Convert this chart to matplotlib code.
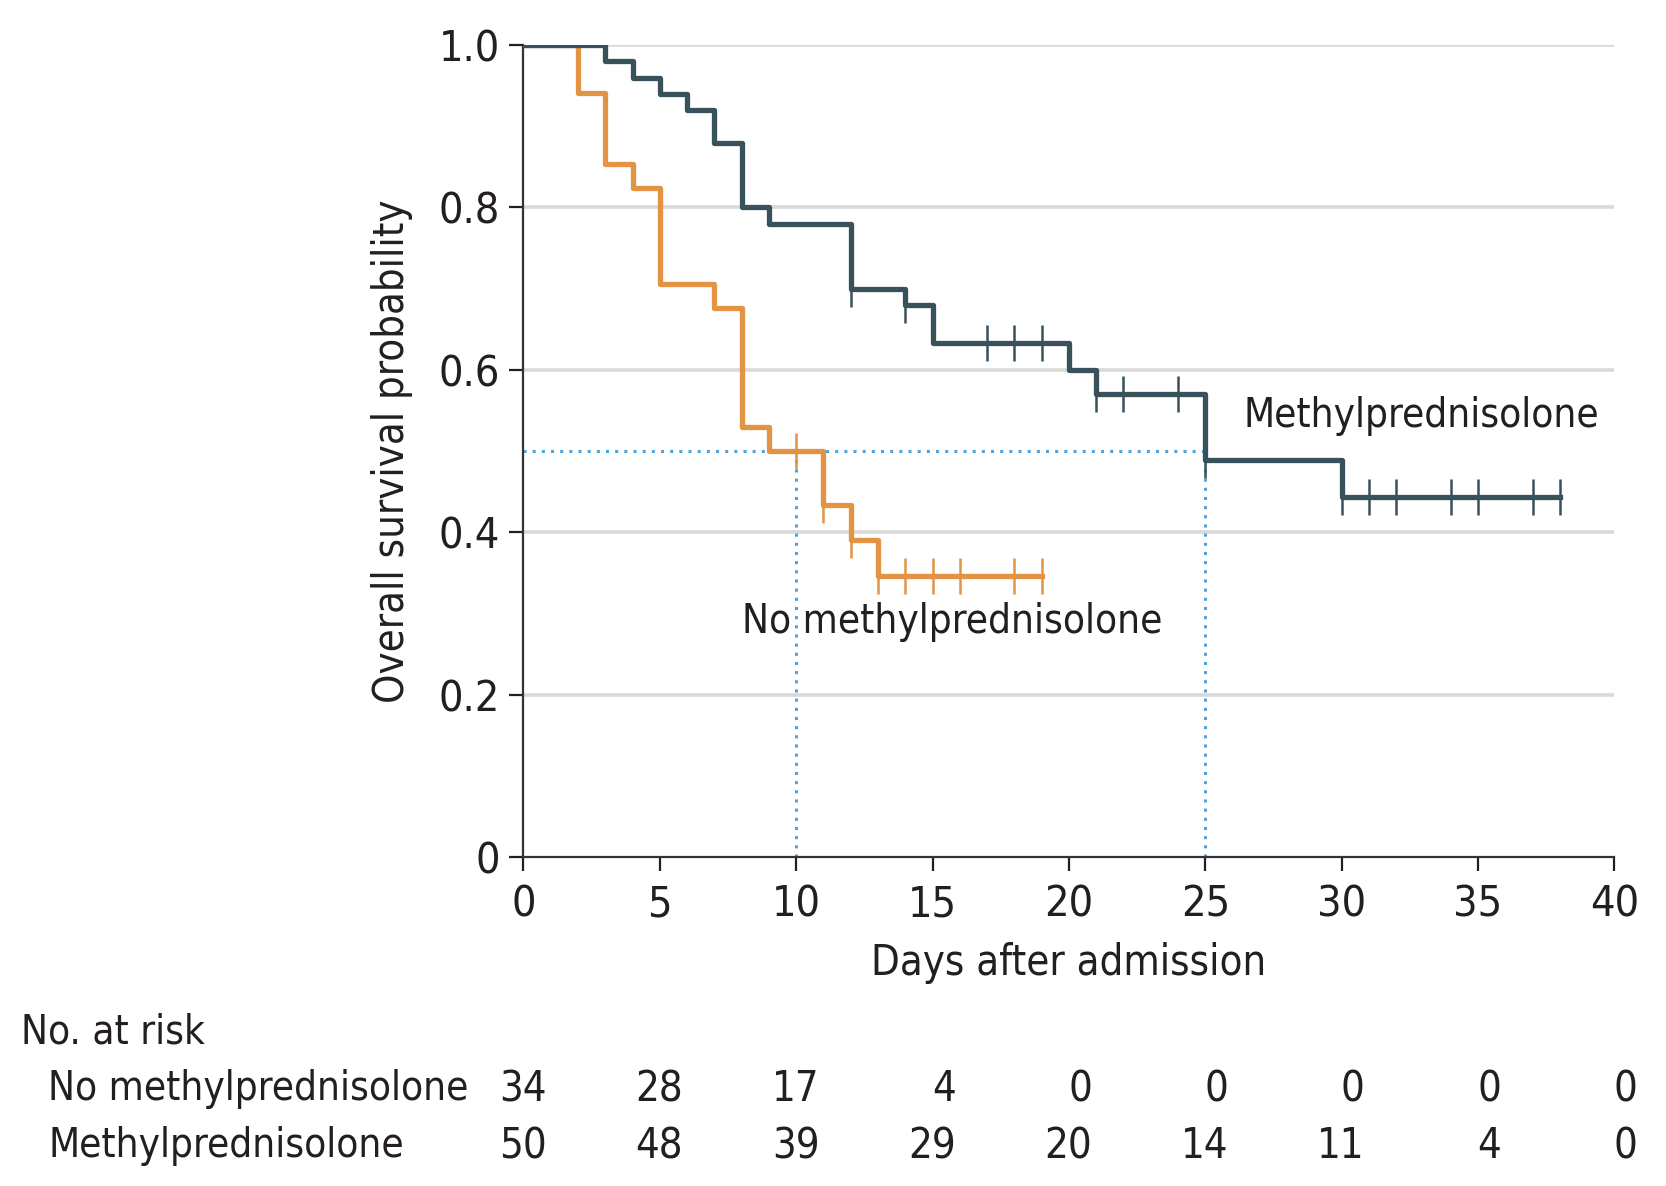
"""Kaplan-Meier survival curves, methylprednisolone vs none, with at-risk table"""

import matplotlib
matplotlib.use('Agg')
import matplotlib.pyplot as plt
import matplotlib.transforms as mtransforms

# Survival step data (days, probability after step)
mp_times = [0, 3, 4, 5, 6, 7, 8, 9, 12, 14, 15, 20, 21, 25, 30, 38]
mp_surv = [1.0, 0.98, 0.96, 0.94, 0.92, 0.88, 0.80, 0.78, 0.70, 0.68, 0.633,
           0.60, 0.57, 0.489, 0.444, 0.444]
mp_censor = [12, 14, 17, 18, 19, 21, 22, 24, 25, 30, 31, 32, 34, 35, 37, 38]

no_times = [0, 2, 3, 4, 5, 7, 8, 9, 11, 12, 13, 19]
no_surv = [1.0, 0.941, 0.853, 0.824, 0.706, 0.676, 0.529, 0.50, 0.433, 0.39,
           0.346, 0.346]
no_censor = [10, 11, 12, 13, 14, 15, 16, 18, 19]

# Median survival markers
median_no = 10
median_mp = 25

# Number at risk table
risk_days = [0, 5, 10, 15, 20, 25, 30, 35, 40]
risk_no = [34, 28, 17, 4, 0, 0, 0, 0, 0]
risk_mp = [50, 48, 39, 29, 20, 14, 11, 4, 0]

DARK = '#39515a'
ORANGE = '#e29343'
BLUE = '#4ba6de'
TEXT = '#231f20'
FS = 29

plt.rcParams['font.family'] = ['DejaVu Sans']
plt.rcParams['font.stretch'] = 'condensed'


def surv_at(times, surv, t):
    """Step-function value at time t"""
    val = surv[0]
    for ti, si in zip(times, surv):
        if ti <= t:
            val = si
    return val


fig = plt.figure(figsize=(16.66, 11.86), dpi=100)
ax = fig.add_axes([0.3142, 0.2774, 0.6548, 0.6846])

# Gridlines
for g in [0.2, 0.4, 0.6, 0.8, 1.0]:
    ax.axhline(g, color='#d9d9d9', lw=2.6, zorder=0)

# Median dotted guides
dots = (0, (1, 2.0))
ax.plot([0, median_mp], [0.5, 0.5], color=BLUE, lw=2.2, ls=dots, zorder=1)
ax.plot([median_no, median_no], [0, 0.5], color=BLUE, lw=2.2, ls=dots, zorder=1)
ax.plot([median_mp, median_mp], [0, 0.5], color=BLUE, lw=2.2, ls=dots, zorder=1)

# Curves
ax.step(no_times, no_surv, where='post', color=ORANGE, lw=3.8, zorder=3)
ax.step(mp_times, mp_surv, where='post', color=DARK, lw=3.8, zorder=4)

# Censor marks
ax.plot(no_censor, [surv_at(no_times, no_surv, t) for t in no_censor],
        ls='none', marker='|', ms=26, mew=1.8, color=ORANGE, zorder=3)
ax.plot(mp_censor, [surv_at(mp_times, mp_surv, t) for t in mp_censor],
        ls='none', marker='|', ms=26, mew=1.8, color=DARK, zorder=4)

# Curve labels
ax.text(26.4, 0.543, 'Methylprednisolone', fontsize=FS, color=TEXT, va='center')
ax.text(8.0, 0.29, 'No methylprednisolone', fontsize=FS, color=TEXT, va='center')

ax.set_xlim(0, 40)
ax.set_ylim(0, 1.0)
ax.set_xticks(risk_days)
ax.set_yticks([0, 0.2, 0.4, 0.6, 0.8, 1.0])
ax.set_yticklabels(['0', '0.2', '0.4', '0.6', '0.8', '1.0'])
ax.tick_params(axis='both', labelsize=31, colors=TEXT, width=1.6, length=10)
ax.tick_params(axis='y', pad=7)
ax.tick_params(axis='x', pad=9)

for side in ['top', 'right']:
    ax.spines[side].set_visible(False)
for side in ['left', 'bottom']:
    ax.spines[side].set_color('#333333')
    ax.spines[side].set_linewidth(1.6)

ax.set_xlabel('Days after admission', fontsize=FS + 1, color=TEXT, labelpad=12)
ax.set_ylabel('Overall survival probability', fontsize=FS + 1, color=TEXT, labelpad=18)

# At risk table
fig.text(0.0129, 0.1296, 'No. at risk', fontsize=FS, color=TEXT, va='center')
fig.text(0.029, 0.0816, 'No methylprednisolone', fontsize=FS, color=TEXT, va='center')
fig.text(0.029, 0.0335, 'Methylprednisolone', fontsize=FS, color=TEXT, va='center')

trans = mtransforms.blended_transform_factory(ax.transData, fig.transFigure)
for d, n1, n2 in zip(risk_days, risk_no, risk_mp):
    ax.text(d + 0.85, 0.0816, str(n1), fontsize=FS + 1, color=TEXT, ha='right',
            va='center', transform=trans, clip_on=False)
    ax.text(d + 0.85, 0.0335, str(n2), fontsize=FS + 1, color=TEXT, ha='right',
            va='center', transform=trans, clip_on=False)

fig.savefig('out.png', dpi=100)
